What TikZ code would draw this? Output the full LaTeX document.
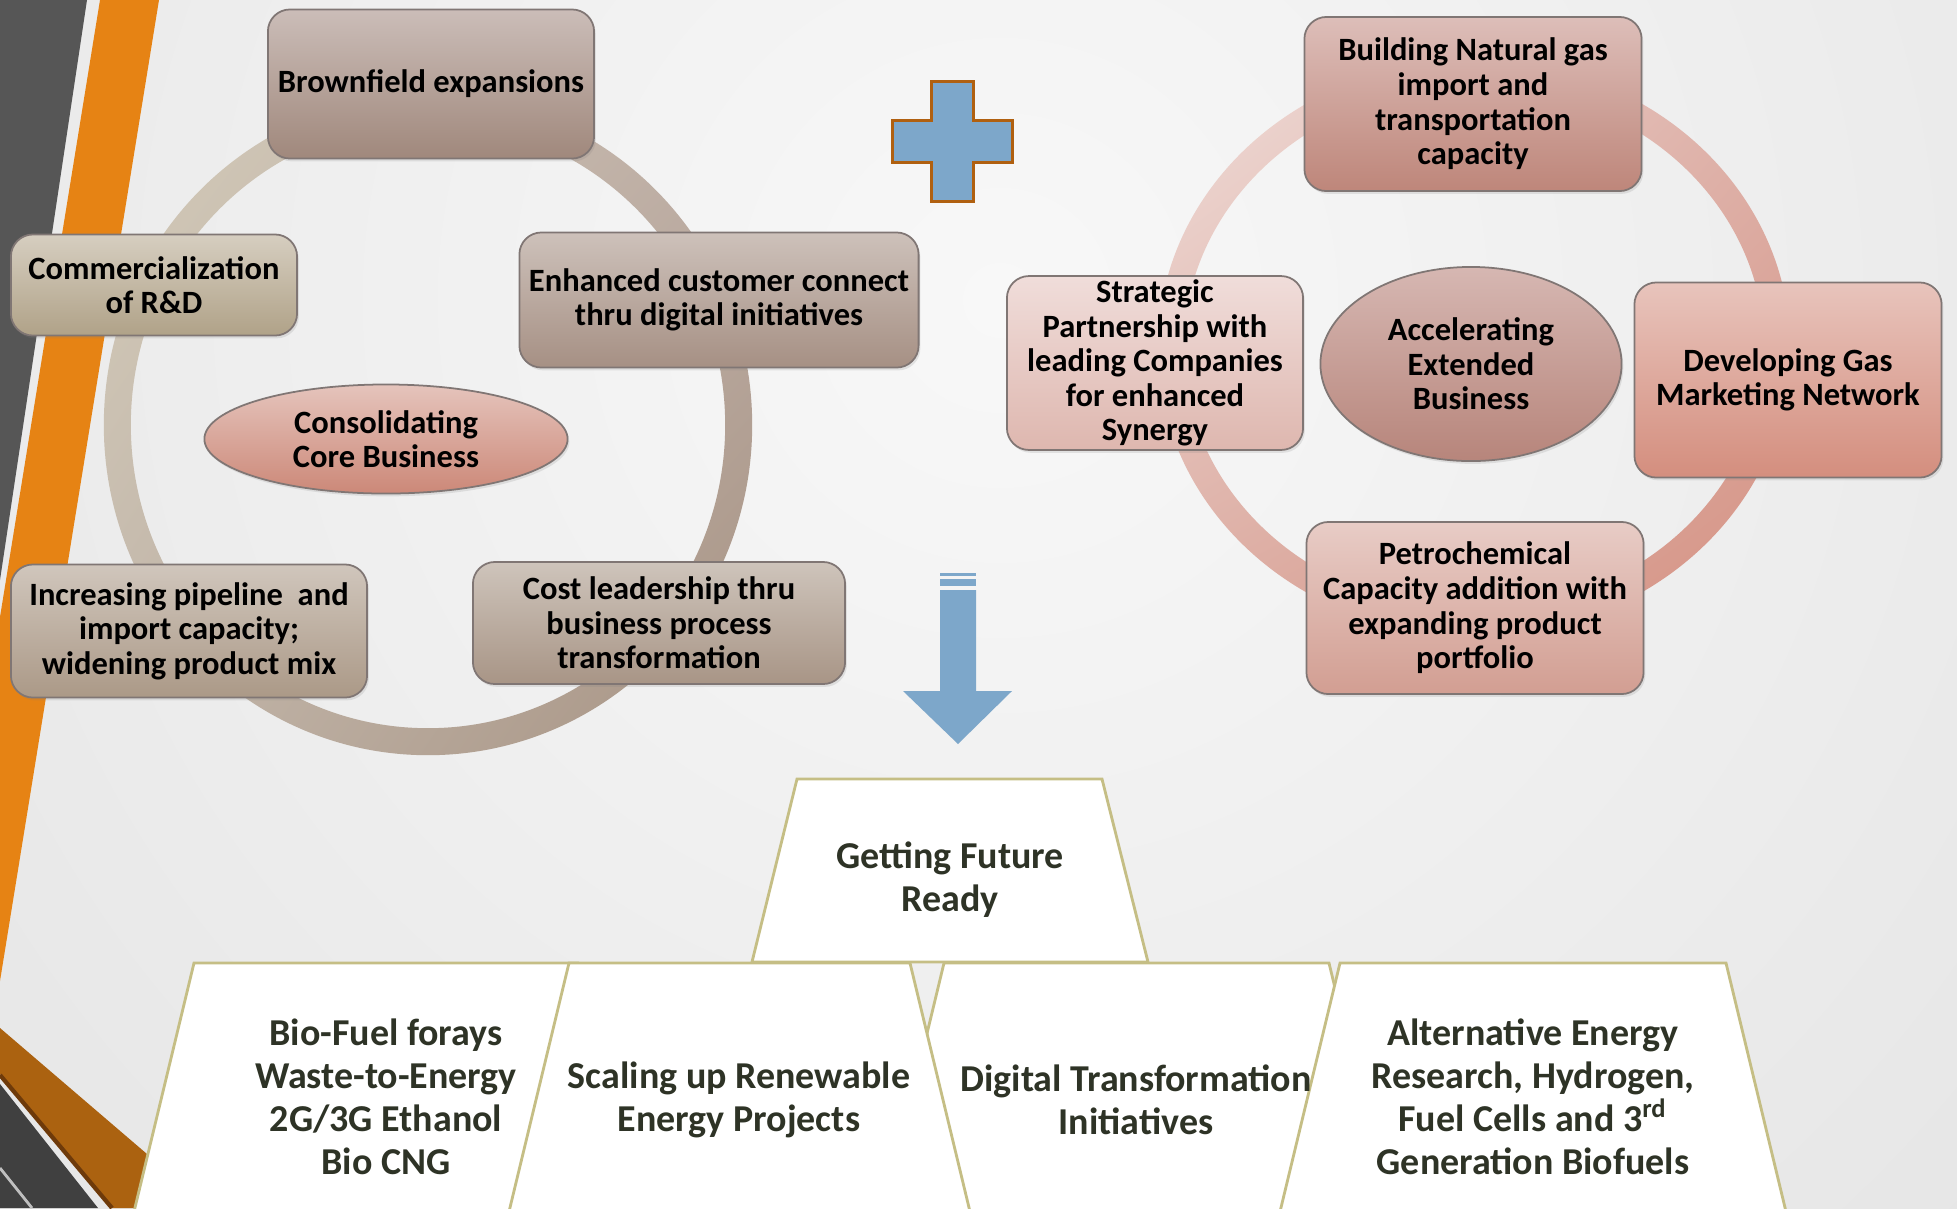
\documentclass[tikz,border=0pt]{standalone}
\usepackage{fontspec}
\setmainfont{Carlito}
\usepackage{tikz}
\usetikzlibrary{shapes.geometric,shadows,shadings}
\definecolor{bgin}{RGB}{248,248,248}
\definecolor{bgout}{RGB}{224,224,224}
\definecolor{stripegray}{RGB}{86,86,86}
\definecolor{stripeorange}{RGB}{230,131,20}
\definecolor{cornerbrown}{RGB}{171,98,16}
\definecolor{cornerdark}{RGB}{110,58,10}
\definecolor{cornergray}{RGB}{64,64,64}
\definecolor{boxline}{RGB}{128,118,116}
\definecolor{arrowblue}{RGB}{125,167,202}
\definecolor{plusline}{RGB}{176,96,16}
\definecolor{trapline}{RGB}{197,190,133}
\definecolor{trapink}{RGB}{46,51,38}
\definecolor{ringLa}{RGB}{212,204,186}
\definecolor{ringLb}{RGB}{190,174,166}
\definecolor{ringLc}{RGB}{194,182,170}
\definecolor{ringLd}{RGB}{166,146,130}
\definecolor{ringRa}{RGB}{240,222,218}
\definecolor{ringRb}{RGB}{222,178,170}
\definecolor{ringRc}{RGB}{220,172,162}
\definecolor{ringRd}{RGB}{213,145,130}
\definecolor{bfTop}{RGB}{203,189,184}
\definecolor{bfBot}{RGB}{160,136,124}
\definecolor{rdTop}{RGB}{214,206,192}
\definecolor{rdBot}{RGB}{176,162,136}
\definecolor{ecTop}{RGB}{205,193,186}
\definecolor{ecBot}{RGB}{166,144,132}
\definecolor{ipTop}{RGB}{208,198,188}
\definecolor{ipBot}{RGB}{171,153,135}
\definecolor{clTop}{RGB}{206,196,187}
\definecolor{clBot}{RGB}{168,149,134}
\definecolor{ccTop}{RGB}{229,196,188}
\definecolor{ccBot}{RGB}{204,136,120}
\definecolor{ngTop}{RGB}{221,190,185}
\definecolor{ngBot}{RGB}{190,134,122}
\definecolor{spTop}{RGB}{240,221,218}
\definecolor{spBot}{RGB}{222,183,175}
\definecolor{aeTop}{RGB}{214,183,178}
\definecolor{aeBot}{RGB}{183,133,123}
\definecolor{gmTop}{RGB}{232,196,188}
\definecolor{gmBot}{RGB}{212,142,126}
\definecolor{pcTop}{RGB}{232,204,198}
\definecolor{pcBot}{RGB}{210,158,146}

\begin{document}
\begin{tikzpicture}[
  x=0.01cm,y=-0.01cm,
  box/.style={draw=boxline,line width=0.5pt,rounded corners=0.22cm,align=center,inner sep=1pt,
    font=\fontsize{9.25}{9.85}\selectfont\bfseries,
    drop shadow={opacity=0.18,shadow xshift=0.5pt,shadow yshift=-0.8pt}},
  oval/.style={box,ellipse,rounded corners=0pt,inner sep=0pt},
  shade box/.style 2 args={top color=#1,bottom color=#2},
  trap/.style={fill=white,draw=trapline,line width=0.8pt,line join=miter},
  traptext/.style={align=center,text=trapink,font=\fontsize{10.8}{12.2}\selectfont\bfseries}
]
  \useasboundingbox (0,0) rectangle (1957,1208);
  \clip (0,0) rectangle (1957,1208);
  \fill[bgout] (0,0) rectangle (1957,1208);
  \shade[inner color=bgin,outer color=bgout] (1000,300) circle (18cm);

  \fill[stripegray] (0,0) -- (87,0) -- (0,580) -- cycle;
  \fill[stripeorange] (100,0) -- (159,0) -- (0,981) -- (0,617) -- cycle;
  \fill[cornerbrown] (0,1028) -- (210,1208) -- (112,1208) -- (0,1074) -- cycle;
  \draw[cornerdark,line width=1.2pt] (0,1075) -- (112,1208);
  \fill[cornergray] (0,1084) -- (98,1208) -- (0,1208) -- cycle;
  \draw[white!75!black,line width=0.8pt] (0,1168) -- (32,1208);

  \shade[upper left=ringLa,upper right=ringLb,lower left=ringLc,lower right=ringLd,even odd rule]
    (428,425) ellipse [x radius=3.24cm,y radius=3.30cm]
    (428,425) ellipse [x radius=2.97cm,y radius=3.03cm];
  \shade[upper left=ringRa,upper right=ringRb,lower left=ringRc,lower right=ringRd,even odd rule]
    (1474,348) ellipse [x radius=3.16cm,y radius=2.88cm]
    (1474,348) ellipse [x radius=2.90cm,y radius=2.62cm];

  \node[box,shade box={bfTop}{bfBot},minimum width=3.26cm,minimum height=1.49cm] (brownfield) at (431,84) {Brownfield expansions};
  \node[box,shade box={rdTop}{rdBot},minimum width=2.86cm,minimum height=1.01cm] (randd) at (154,285) {Commercialization\\of R\&D};
  \node[box,shade box={ecTop}{ecBot},minimum width=3.99cm,minimum height=1.35cm] (digital) at (719,300) {Enhanced customer connect\\thru digital initiatives};
  \node[oval,shade box={ccTop}{ccBot},minimum width=3.63cm,minimum height=1.09cm] (core) at (386,439) {Consolidating\\Core Business};
  \node[box,shade box={ipTop}{ipBot},minimum width=3.56cm,minimum height=1.33cm] (pipeline) at (189,631) {Increasing pipeline\ \ and\\import capacity;\\widening product mix};
  \node[box,shade box={clTop}{clBot},minimum width=3.72cm,minimum height=1.22cm] (costlead) at (659,623) {Cost leadership thru\\business process\\transformation};

  \node[box,shade box={ngTop}{ngBot},minimum width=3.37cm,minimum height=1.74cm] (natgas) at (1473,104) {Building Natural gas\\import and\\transportation\\capacity};
  \node[box,shade box={spTop}{spBot},minimum width=2.96cm,minimum height=1.72cm] (partner) at (1155,363) {Strategic\\Partnership with\\leading Companies\\for enhanced\\Synergy};
  \node[oval,shade box={aeTop}{aeBot},minimum width=3.01cm,minimum height=1.94cm] (extended) at (1471,364) {Accelerating\\Extended\\Business};
  \node[box,shade box={gmTop}{gmBot},minimum width=3.07cm,minimum height=1.95cm] (gasmkt) at (1788,380) {Developing Gas\\Marketing Network};
  \node[box,shade box={pcTop}{pcBot},minimum width=3.37cm,minimum height=1.72cm] (petchem) at (1475,608) {Petrochemical\\Capacity addition with\\expanding product\\portfolio};

  \draw[fill=arrowblue,draw=plusline,line width=0.85pt]
    (931,81) -- (973,81) -- (973,120) -- (1012,120) -- (1012,162) -- (973,162) -- (973,201)
    -- (931,201) -- (931,162) -- (892,162) -- (892,120) -- (931,120) -- cycle;
  \fill[arrowblue] (940,573) rectangle (976,576);
  \fill[arrowblue] (940,579) rectangle (976,586);
  \fill[arrowblue] (940,590) -- (976,590) -- (976,691) -- (1012,691) -- (958,744) -- (903,691) -- (940,691) -- cycle;

  \draw[trap] (194,963) -- (578,963) -- (640,1220) -- (132,1220) -- cycle;
  \draw[trap] (944,963) -- (1329,963) -- (1391,1220) -- (882,1220) -- cycle;
  \draw[trap] (569,963) -- (910,963) -- (972,1220) -- (507,1220) -- cycle;
  \draw[trap] (1340,963) -- (1726,963) -- (1788,1220) -- (1278,1220) -- cycle;
  \draw[trap] (797,779) -- (1102,779) -- (1148,962) -- (752,962) -- cycle;

  \node[traptext] (future) at (950,880) {Getting Future\\Ready};
  \node[traptext] (biofuel) at (386,1097) {Bio-Fuel forays\\Waste-to-Energy\\2G/3G Ethanol\\Bio CNG};
  \node[traptext] (renewable) at (739,1100) {Scaling up Renewable\\Energy Projects};
  \node[traptext] (transform) at (1136,1100) {Digital Transformation\\Initiatives};
  \node[traptext] (altenergy) at (1533,1097) {Alternative Energy\\Research, Hydrogen,\\Fuel Cells and 3\textsuperscript{rd}\\Generation Biofuels};
\end{tikzpicture}
\end{document}
